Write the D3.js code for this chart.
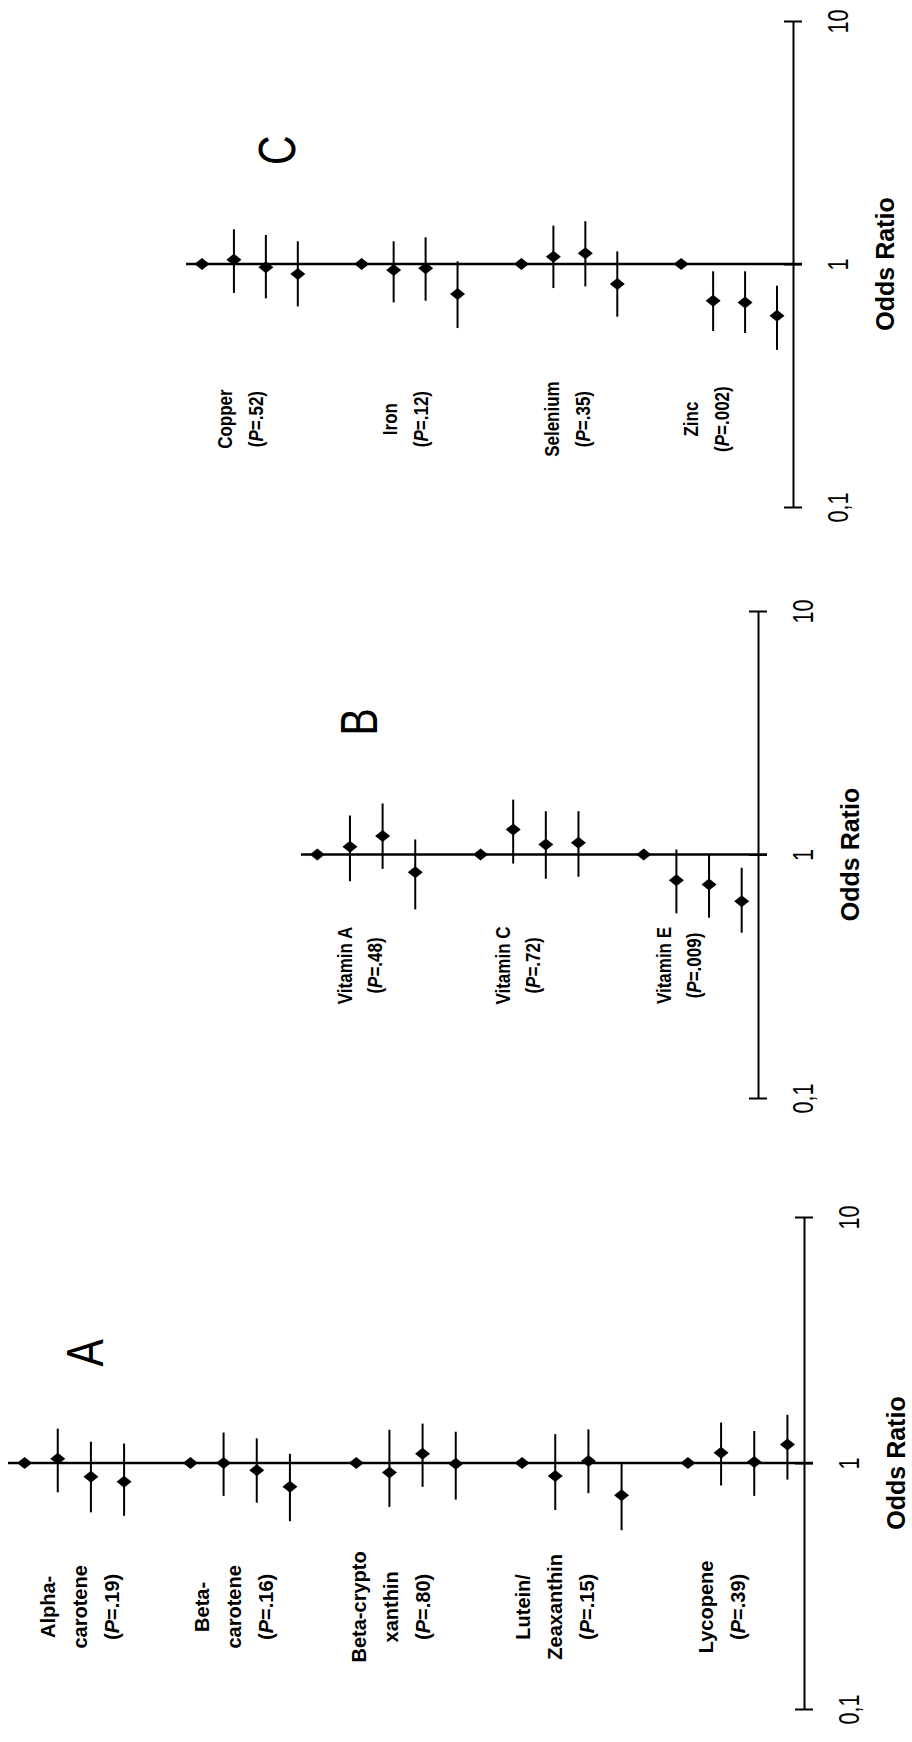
<!DOCTYPE html>
<html><head><meta charset="utf-8">
<script src="https://cdn.jsdelivr.net/npm/d3@7"></script>
<style>body{margin:0;background:#fff} svg{display:block}</style>
</head><body><svg id="chart" width="912" height="1742"></svg>
<script>
// ---------- data ----------
const tickVals = [0.1, 1, 10];
const tickLabels = ["0,1", "1", "10"];

// Panel A (carotenoids)
const namesA = [["Alpha-","carotene"],["Beta-","carotene"],["Beta-crypto","xanthin"],["Lutein/","Zeaxanthin"],["Lycopene"]];
const pA = [".19",".16",".80",".15",".39"];
const orA = [[1,1.04,0.88,0.84],[1,1.00,0.935,0.80],[1,0.914,1.09,0.994],[1,0.885,1.02,0.74],[1,1.10,1.01,1.19]];
const loA = [[null,0.76,0.63,0.61],[null,0.735,0.69,0.58],[null,0.663,0.80,0.71],[null,0.644,0.754,0.533],[null,0.81,0.735,0.856]];
const hiA = [[null,1.38,1.22,1.20],[null,1.33,1.26,1.09],[null,1.365,1.446,1.34],[null,1.31,1.37,1.0],[null,1.46,1.35,1.57]];

// Panel B (vitamins)
const namesB = [["Vitamin A"],["Vitamin C"],["Vitamin E"]];
const pB = [".48",".72",".009"];
const orB = [[1,1.075,1.19,0.846],[1,1.266,1.099,1.117],[1,0.784,0.753,0.643]];
const loB = [[null,0.777,0.873,0.595],[null,0.918,0.795,0.81],[null,0.573,0.55,0.477]];
const hiB = [[null,1.446,1.62,1.153],[null,1.68,1.506,1.506],[null,1.048,1.0,0.882]];

// Panel C (minerals)
const namesC = [["Copper"],["Iron"],["Selenium"],["Zinc"]];
const pC = [".52",".12",".35",".002"];
const orC = [[1,1.042,0.969,0.909],[1,0.945,0.96,0.752],[1,1.072,1.106,0.827],[1,0.706,0.695,0.612]];
const loC = [[null,0.76,0.722,0.669],[null,0.695,0.706,0.545],[null,0.796,0.809,0.607],[null,0.53,0.52,0.443]];
const hiC = [[null,1.39,1.316,1.24],[null,1.24,1.288,1.025],[null,1.438,1.5,1.127],[null,0.933,0.933,0.814]];

// ---------- layout ----------
const layoutA = {letter:"A", xRange:[8,804], yRange:[1709,1217], letterSlot:1.82, letterOR:2.8, labelOR:0.26, labelShift:[23,12,3,1,18], lineGap:32, labelSize:20, labelSquash:1};
const layoutB = {letter:"B", xRange:[301,758], yRange:[1098,611], letterSlot:1.25, letterOR:3.5, labelOR:0.35, labelShift:[28,22,20], lineGap:30, labelSize:20, labelSquash:0.85};
const layoutC = {letter:"C", xRange:[186,793], yRange:[507,21], letterSlot:2.35, letterOR:2.94, labelOR:0.23, labelShift:[23,28,31,10], lineGap:31, labelSize:20, labelSquash:0.85};

const FONT = "'Liberation Sans', Arial, Helvetica, sans-serif";
const svg = d3.select("#chart");

function drawPanel(cfg, names, pvals, ors, los, his) {
  const nGroups = names.length;
  const nSlots = nGroups * 5 - 1;
  const x = d3.scaleLinear().domain([-0.5, nSlots - 0.5]).range(cfg.xRange);
  const y = d3.scaleLog().domain([0.1, 10]).range(cfg.yRange);
  const axisX = cfg.xRange[1];
  const g = svg.append("g");

  // reference line at OR = 1
  g.append("line")
    .attr("x1", x(-0.5)).attr("x2", axisX + 9)
    .attr("y1", y(1)).attr("y2", y(1))
    .attr("stroke", "#000").attr("stroke-width", 2.5);

  // odds-ratio axis
  const ax = g.append("g")
    .attr("transform", `translate(${axisX},0)`)
    .call(d3.axisRight(y).tickValues(tickVals)
      .tickFormat(d => tickLabels[tickVals.indexOf(d)])
      .tickSizeOuter(0).tickSizeInner(9));
  ax.select(".domain").attr("stroke", "#000").attr("stroke-width", 2);
  ax.selectAll(".tick line").attr("x1", -9).attr("x2", 9).attr("stroke", "#000").attr("stroke-width", 2);
  ax.selectAll(".tick text")
    .attr("x", null).attr("y", null)
    .attr("transform", "translate(44.5,0) rotate(-90) scale(0.72,1)")
    .attr("text-anchor", "middle").attr("dy", "0.36em")
    .attr("fill", "#000")
    .style("font-size", "30px").style("font-family", FONT);

  // points
  const pts = [];
  ors.forEach((row, gi) => row.forEach((v, j) => {
    pts.push({slot: gi * 5 + j, or: v, lo: los[gi][j], hi: his[gi][j]});
  }));

  g.selectAll("line.ci").data(pts.filter(d => d.lo != null)).join("line")
    .attr("class", "ci")
    .attr("x1", d => x(d.slot)).attr("x2", d => x(d.slot))
    .attr("y1", d => y(d.lo)).attr("y2", d => y(d.hi))
    .attr("stroke", "#000").attr("stroke-width", 2);

  g.selectAll("path.pt").data(pts).join("path")
    .attr("class", "pt")
    .attr("d", d => {
      const cx = x(d.slot), cy = y(d.or);
      return `M${cx - 7.5},${cy}L${cx},${cy - 6}L${cx + 7.5},${cy}L${cx},${cy + 6}Z`;
    })
    .attr("fill", "#000");

  // group labels
  names.forEach((lines, gi) => {
    const x0 = x(gi * 5) + cfg.labelShift[gi];
    const yc = y(cfg.labelOR);
    const all = lines.concat([null]);
    all.forEach((ln, i) => {
      const t = g.append("text")
        .attr("transform", `translate(${x0 + i * cfg.lineGap},${yc}) rotate(-90) scale(${cfg.labelSquash},1)`)
        .attr("text-anchor", "middle").attr("dy", "0.35em")
        .style("font-family", FONT).style("font-size", cfg.labelSize + "px").style("font-weight", "bold")
        .attr("fill", "#000");
      if (ln !== null) {
        t.text(ln);
      } else {
        t.append("tspan").text("(");
        t.append("tspan").style("font-style", "italic").text("P");
        t.append("tspan").text("=" + pvals[gi] + ")");
      }
    });
  });

  // panel letter
  g.append("text")
    .attr("transform", `translate(${x(cfg.letterSlot)},${y(cfg.letterOR)}) rotate(-90) scale(0.8,1)`)
    .attr("text-anchor", "middle").attr("dy", "0.36em")
    .style("font-family", FONT).style("font-size", "51px")
    .attr("fill", "#000").text(cfg.letter);

  // axis title
  g.append("text")
    .attr("transform", `translate(${axisX + 92},${y(1)}) rotate(-90)`)
    .attr("text-anchor", "middle").attr("dy", "0.36em")
    .style("font-family", FONT).style("font-size", "25px").style("font-weight", "bold")
    .attr("fill", "#000").text("Odds Ratio");
}

drawPanel(layoutA, namesA, pA, orA, loA, hiA);
drawPanel(layoutB, namesB, pB, orB, loB, hiB);
drawPanel(layoutC, namesC, pC, orC, loC, hiC);
</script>
</body></html>
